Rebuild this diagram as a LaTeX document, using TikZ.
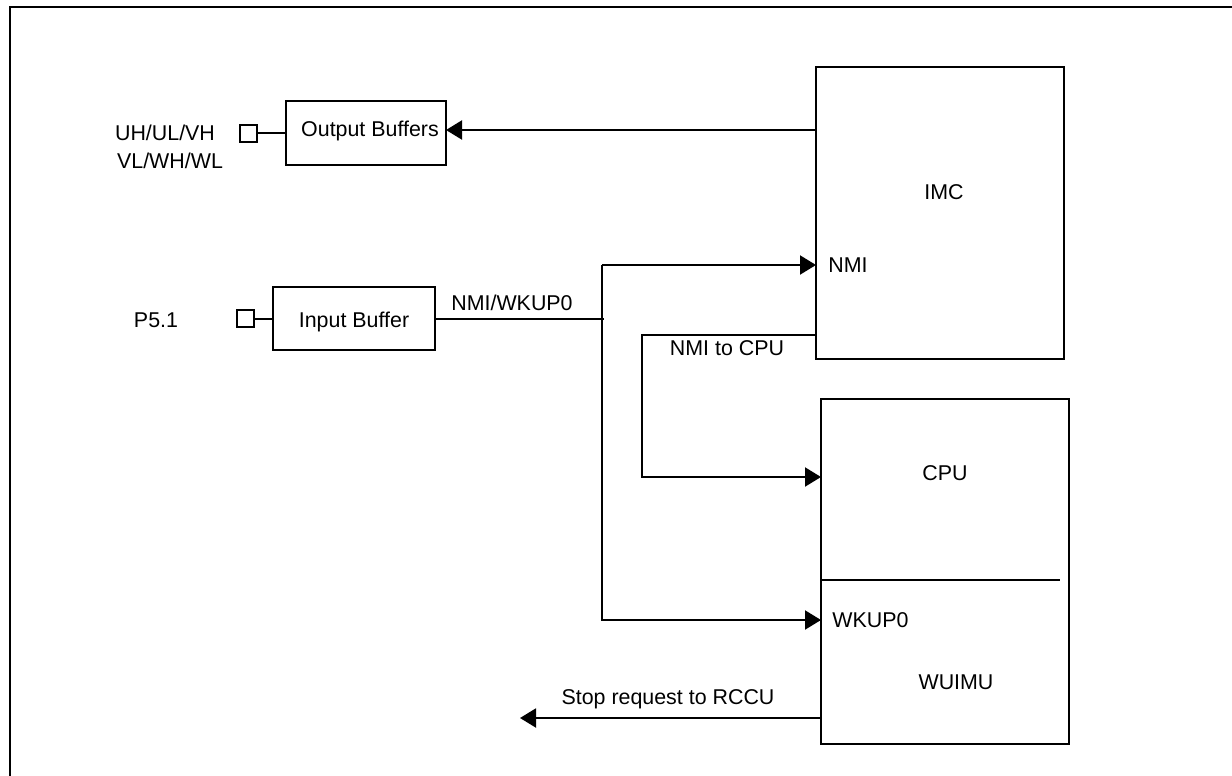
\documentclass[tikz,border=0pt]{standalone}
\usepackage{fontspec}
\setmainfont{Liberation Sans}
\usetikzlibrary{arrows.meta}
\begin{document}
\begin{tikzpicture}[x=0.5pt,y=-0.5pt,
  box/.style={draw, line width=1pt, inner sep=0pt, outer sep=0pt, font=\fontsize{10.7}{12}\selectfont, text height=7.7pt, text depth=0pt},
  pin/.style={draw, line width=1pt, inner sep=0pt, outer sep=0pt, minimum size=8.5pt},
  lbl/.style={inner sep=0pt, font=\fontsize{10.7}{12}\selectfont, text height=7.7pt, text depth=0pt},
  wire/.style={line width=1pt},
  arr/.style={wire, -{Triangle[length=8pt,width=9.5pt]}}]
\useasboundingbox (0,0) rectangle (1232,776);
% frame
\draw[line width=1.1pt] (10,800) -- (10,7) -- (1250,7);

% boxes
\node[box, minimum width=80pt, minimum height=32pt] (ob) at (366,133) {};
\node[box, minimum width=81pt, minimum height=31.5pt] (ib) at (354,318.5) {};
\node[pin] (uhpin) at (248.5,133) {};
\node[pin] (p5pin) at (245.5,318.5) {};
\node[box, minimum width=124pt, minimum height=146pt] (imc) at (940,213) {};
\node[box, minimum width=124pt, minimum height=172.5pt] (cpu) at (945,571.5) {};
\coordinate (divL) at (821,580);
\coordinate (divR) at (1060,580);
\draw[wire] (divL) -- (divR);

% labels
\node[lbl] (obl) at (370,129) {Output Buffers};
\node[lbl] (ibl) at (354,320) {Input Buffer};
\node[lbl] (uhl) at (165,133) {UH/UL/VH};
\node[lbl] (vll) at (170,161) {VL/WH/WL};
\node[lbl] (p5l) at (156,320) {P5.1};
\node[lbl] (nwl) at (512,303) {NMI/WKUP0};
\node[lbl, anchor=west] (nmil) at (828,265) {NMI};
\node[lbl] (imcl) at (944,192) {IMC};
\node[lbl] (ncl) at (727,348) {NMI to CPU};
\node[lbl] (cpul) at (945,473) {CPU};
\node[lbl, anchor=west] (wkl) at (832,620) {WKUP0};
\node[lbl] (wul) at (956,682) {WUIMU};
\node[lbl] (stl) at (668,697) {Stop request to RCCU};

% connectors
\coordinate (jtop) at (602,265);
\coordinate (jmid) at (604,318.5);
\coordinate (jbot) at (602,620);
\coordinate (nc1) at (642,335);
\coordinate (nc2) at (642,477);
\coordinate (stop) at (520,718);
\coordinate (obin) at (446,130);

\draw[wire] (uhpin.east) -- (ob.west);
\draw[wire] (p5pin.east) -- (ib.west);
\draw[arr] (imc.west |- obin) -- (ob.east |- obin);
\draw[wire] (ib.east) -- (jmid);
\draw[arr] (jtop) -- (imc.west |- jtop);
\draw[arr] (jtop) -- (jbot) -- (cpu.west |- jbot);
\draw[arr] (imc.west |- nc1) -- (nc1) -- (nc2) -- (cpu.west |- nc2);
\draw[arr] (cpu.west |- stop) -- (stop);
\end{tikzpicture}
\end{document}
